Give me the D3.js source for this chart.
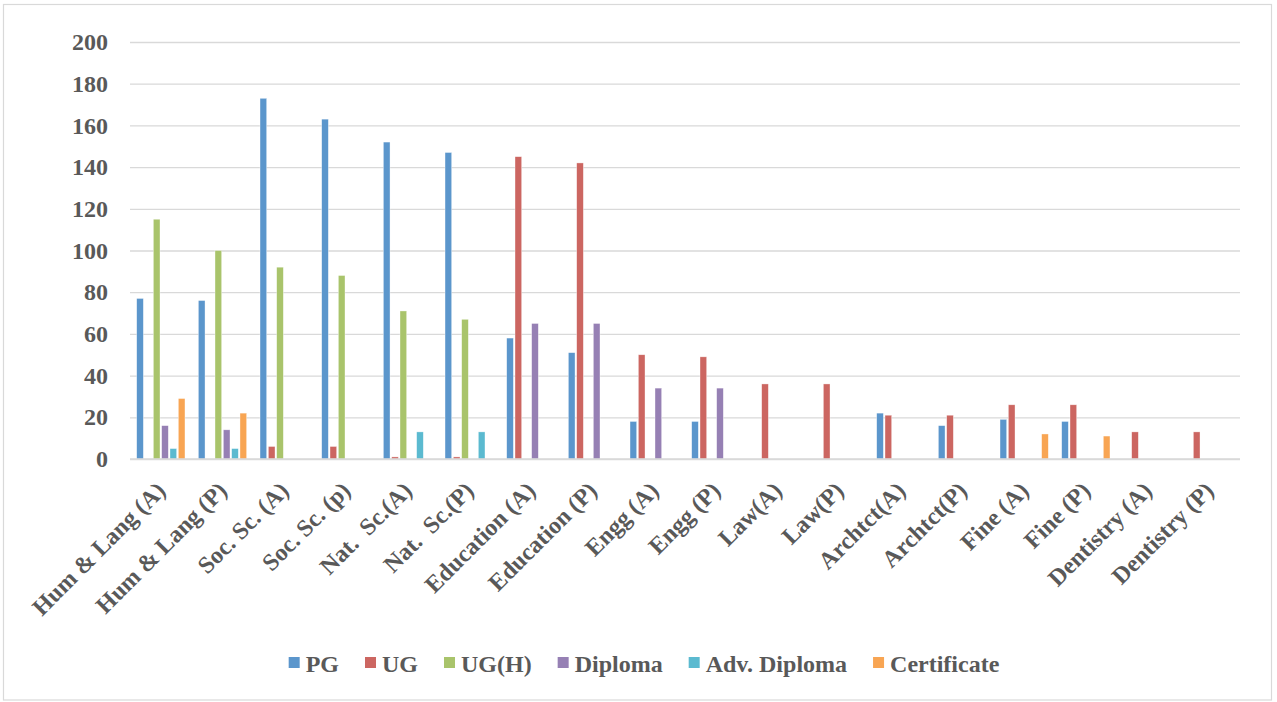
<!DOCTYPE html>
<html>
<head>
<meta charset="utf-8">
<script src="https://cdn.jsdelivr.net/npm/d3@7"></script>
<style>
  html, body { margin: 0; padding: 0; background: #fff; }
  svg { display: block; }
  text { font-family: "Liberation Serif", "Times New Roman", serif; font-weight: bold; fill: #595959; white-space: pre; }
</style>
</head>
<body>
<svg id="chart" width="1277" height="702"></svg>
<script>
const categories = ["Hum & Lang (A)", "Hum & Lang (P)", "Soc. Sc. (A)", "Soc. Sc. (p)", "Nat.  Sc.(A)", "Nat.  Sc.(P)",
  "Education (A)", "Education (P)", "Engg (A)", "Engg (P)", "Law(A)", "Law(P)",
  "Archtct(A)", "Archtct(P)", "Fine (A)", "Fine (P)", "Dentistry (A)", "Dentistry (P)"];
const seriesNames = ["PG", "UG", "UG(H)", "Diploma", "Adv. Diploma", "Certificate"];
const PG          = [77, 76, 173, 163, 152, 147, 58, 51, 18, 18, 0, 0, 22, 16, 19, 18, 0, 0];
const UG          = [0, 0, 6, 6, 1, 1, 145, 142, 50, 49, 36, 36, 21, 21, 26, 26, 13, 13];
const UGH         = [115, 100, 92, 88, 71, 67, 0, 0, 0, 0, 0, 0, 0, 0, 0, 0, 0, 0];
const Diploma     = [16, 14, 0, 0, 0, 0, 65, 65, 34, 34, 0, 0, 0, 0, 0, 0, 0, 0];
const AdvDiploma  = [5, 5, 0, 0, 13, 13, 0, 0, 0, 0, 0, 0, 0, 0, 0, 0, 0, 0];
const Certificate = [29, 22, 0, 0, 0, 0, 0, 0, 0, 0, 0, 0, 0, 0, 12, 11, 0, 0];
const yTicks = [0, 20, 40, 60, 80, 100, 120, 140, 160, 180, 200];
const colors = ["#5b96cc", "#cc6661", "#a9c46b", "#9680b4", "#5bbad0", "#f8a553"];

const seriesValues = [PG, UG, UGH, Diploma, AdvDiploma, Certificate];
const FONT = "'Liberation Serif', 'Times New Roman', serif";
const svg = d3.select("#chart");

// outer chart border
svg.append("rect").attr("x", 3.5).attr("y", 4.5).attr("width", 1268).attr("height", 695.5)
  .attr("fill", "none").attr("stroke", "#d9d9d9").attr("stroke-width", 1.2);

const pLeft = 130, pRight = 1240, pTop = 42, pBottom = 459;
const y = d3.scaleLinear().domain([0, 200]).range([pBottom, pTop]);
const x0 = d3.scaleBand().domain(categories).range([pLeft, pRight]).paddingInner(0.19).paddingOuter(0.095);
const x1 = d3.scaleBand().domain(seriesNames).range([0, x0.bandwidth()]).paddingInner(0.2).paddingOuter(0.1);

// gridlines
const yAxis = d3.axisLeft(y).tickValues(yTicks).tickSize(-(pRight - pLeft)).tickFormat(d => d).tickPadding(22);
const gy = svg.append("g").attr("transform", `translate(${pLeft},0)`).call(yAxis);
gy.select(".domain").remove();
gy.selectAll(".tick line").attr("stroke", "#d9d9d9").attr("stroke-width", 1.3);
gy.selectAll(".tick text").attr("font-size", 24).attr("fill", "#595959")
  .attr("font-family", FONT).attr("font-weight", "bold")
  .style("font-family", FONT).style("font-weight", "bold");

// bars
const groups = svg.append("g").selectAll("g").data(categories).join("g")
  .attr("transform", d => `translate(${x0(d)},0)`);
groups.selectAll("rect")
  .data((c, i) => seriesNames.map((s, j) => ({ s, j, v: seriesValues[j][i] })))
  .join("rect")
  .filter(d => d.v > 0)
  .attr("x", d => x1(d.s))
  .attr("y", d => y(d.v))
  .attr("width", x1.bandwidth())
  .attr("height", d => y(0) - y(d.v))
  .attr("fill", d => colors[d.j])
  .attr("stroke", "#ffffff").attr("stroke-opacity", 0.6).attr("stroke-width", 0.6);

// x axis line
svg.append("line").attr("x1", pLeft).attr("x2", pRight).attr("y1", pBottom).attr("y2", pBottom)
  .attr("stroke", "#d9d9d9").attr("stroke-width", 1.3);

// x labels
const xAxis = d3.axisBottom(x0).tickSize(0).tickPadding(0);
const gx = svg.append("g").attr("transform", `translate(0,${pBottom})`).call(xAxis);
gx.select(".domain").remove();
gx.selectAll(".tick text")
  .attr("font-size", 24).attr("fill", "#595959")
  .attr("font-family", FONT).attr("font-weight", "bold")
  .style("font-family", FONT).style("font-weight", "bold")
  .style("white-space", "pre")
  .attr("text-anchor", "end").attr("dy", null).attr("y", 0)
  .attr("transform", "translate(6,33) rotate(-45)");

// legend
const legend = svg.append("g");
const gap = 26;
let lx = 0;
seriesNames.forEach((s, j) => {
  const g = legend.append("g").attr("transform", `translate(${lx},0)`);
  g.append("rect").attr("x", 0).attr("y", -15).attr("width", 11).attr("height", 11).attr("fill", colors[j]);
  const t = g.append("text").attr("x", 17).attr("y", 0).attr("font-size", 24)
    .attr("font-family", FONT).attr("font-weight", "bold").attr("fill", "#595959")
    .style("font-family", FONT).style("font-weight", "bold")
    .text(s);
  lx += 17 + t.node().getComputedTextLength() + gap;
});
const legendWidth = lx - gap;
legend.attr("transform", `translate(${644 - legendWidth / 2},672)`);
</script>
</body>
</html>
